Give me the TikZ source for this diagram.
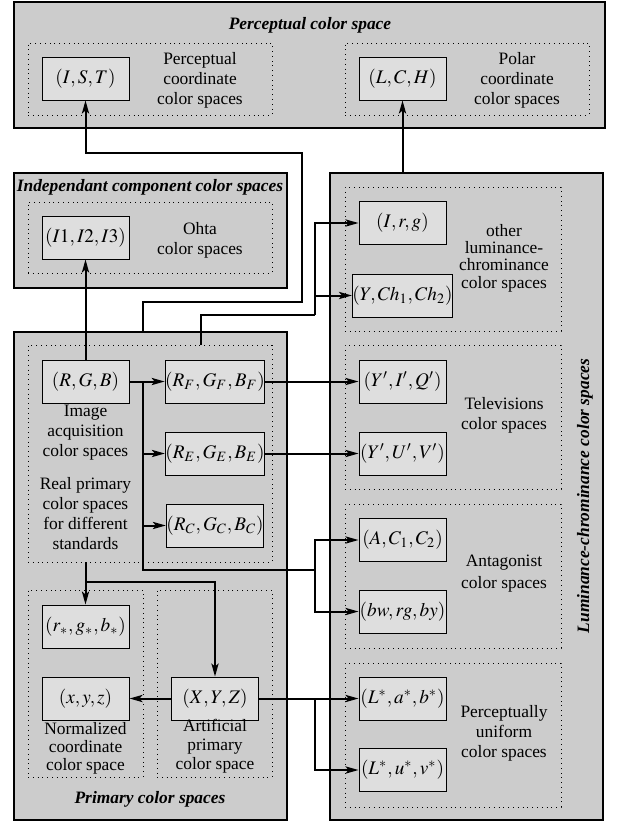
\documentclass[tikz,border=0pt]{standalone}
\usepackage{mathptmx}
\usepackage[no-math]{fontspec}
\setmainfont{Liberation Serif}
\usetikzlibrary{arrows.meta,positioning,fit}
\definecolor{familygray}{RGB}{204,204,204}
\definecolor{spacegray}{RGB}{222,222,222}

\tikzset{
  family/.style={draw, line width=0.8pt, fill=familygray, inner sep=0pt},
  group/.style={draw, dotted, line width=0.4pt, inner sep=0pt},
  space/.style={draw, fill=spacegray, line width=0.5pt, minimum width=43.5pt,
    minimum height=21.5pt, inner sep=0pt, font=\fontsize{9.6}{11}\selectfont},
  note/.style={align=center, inner sep=0pt, font=\fontsize{8.7}{10}\selectfont},
  title/.style={inner sep=0pt, font=\fontsize{8.7}{10.5}\selectfont\bfseries\itshape},
  link/.style={line width=1pt, -{Stealth[length=6.5pt,width=3.6pt,inset=1.5pt]}},
  wire/.style={line width=1pt},
}

\begin{document}
\begin{tikzpicture}[x=0.5pt, y=-0.5pt]

% Background
\fill[white] (0,0) rectangle (617,825);
\useasboundingbox (0,0) rectangle (617,825);

% Families of color spaces
\node[family, fit={(14,2) (605,128)}] (pcs) {};
\node[family, fit={(14,173) (287,288)}] (ics) {};
\node[family, fit={(14,332) (287,820)}] (prim) {};
\node[family, fit={(330,173) (603,820)}] (lcs) {};

\node[title] at (310,25) {Perceptual color space};
\node[title] at (150,187) {Independant component color spaces};
\node[title] at (150,799) {Primary color spaces};
\node[title, rotate=90] at (585,496) {Luminance-chrominance color spaces};

% Dotted groups
\node[group, fit={(28,43) (272,115)}] (gper) {};
\node[group, fit={(345,43) (589,115)}] (gpol) {};
\node[group, fit={(28,202) (272,273)}] (gohta) {};
\node[group, fit={(28,345) (272,562)}] (gacq) {};
\node[group, fit={(28,590) (143,777)}] (gnorm) {};
\node[group, fit={(157,590) (272,777)}] (gart) {};
\node[group, fit={(345,187) (561,331)}] (goth) {};
\node[group, fit={(345,345) (561,489)}] (gtv) {};
\node[group, fit={(345,504) (561,648)}] (gant) {};
\node[group, fit={(345,663) (561,807)}] (guni) {};

% Color spaces
\node[space] (ist) at (85.5,78.5) {$(I,S,T)$};
\node[space] (lch) at (402.5,78.5) {$(L,C,H)$};
\node[space] (ohta) at (85.5,237.5) {$(I1,I2,I3)$};
\node[space] (irg) at (402.5,223) {$(I,r,g)$};
\node[space] (ych) at (402.5,295.5) {$(Y,Ch_1,Ch_2)$};
\node[space] (rgb) at (85.5,381.5) {$(R,G,B)$};
\node[space] (rf) at (215,381.5) {$(R_F,G_F,B_F)$};
\node[space] (re) at (215,453.5) {$(R_E,G_E,B_E)$};
\node[space] (rc) at (215,525.5) {$(R_C,G_C,B_C)$};
\node[space] (yiq) at (402.5,381.5) {$(Y',I',Q')$};
\node[space] (yuv) at (402.5,453.5) {$(Y',U',V')$};
\node[space] (acc) at (402.5,540) {$(A,C_1,C_2)$};
\node[space] (bry) at (402.5,611.5) {$(bw,rg,by)$};
\node[space] (rgbn) at (85.5,626.5) {$(r_*,g_*,b_*)$};
\node[space] (xyzn) at (85.5,698.5) {$(x,y,z)$};
\node[space] (xyz) at (215,698.5) {$(X,Y,Z)$};
\node[space] (lab) at (402.5,698.5) {$(L^*,a^*,b^*)$};
\node[space] (luv) at (402.5,770) {$(L^*,u^*,v^*)$};

% Labels
\node[note] at (200,80) {Perceptual\\coordinate\\color spaces};
\node[note] at (517,80) {Polar\\coordinate\\color spaces};
\node[note] at (200,240) {Ohta\\color spaces};
\node[note, font=\fontsize{8.7}{8.7}\selectfont] at (504,258) {other\\luminance-\\chrominance\\color spaces};
\node[note] at (504,415) {Televisions\\color spaces};
\node[note, font=\fontsize{8.7}{11}\selectfont] at (504,574) {Antagonist\\color spaces};
\node[note] at (504,733) {Perceptually\\uniform\\color spaces};
\node[note] at (85.5,433) {Image\\acquisition\\color spaces};
\node[note] at (85.5,514) {Real primary\\color spaces\\for different\\standards};
\node[note, font=\fontsize{8.7}{9}\selectfont] at (85.5,748) {Normalized\\coordinate\\color space};
\node[note, font=\fontsize{8.7}{9.5}\selectfont] at (215,746) {Artificial\\primary\\color space};

% Bends
\coordinate (upA) at (143,302);
\coordinate (upB) at (302,153);
\coordinate (upC) at (201,315);
\coordinate (upD) at (315,315);
\coordinate (stdA) at (143,570);
\coordinate (stdB) at (315,570);
\coordinate (dnA) at (85.5,582);
\coordinate (uniB) at (315,698.5);

% Connectors
\draw[link] (prim.north -| upA) -- (upA) -| (upB) -| (ist.south);
\draw[link] (lch.south |- lcs.north) -- (lch.south);
\draw[link] (rgb.north) -- (ohta.south);
\draw[wire] (gacq.north -| upC) -- (upC) -- (upD);
\draw[link] (upD) |- (irg.west);
\draw[link] (ych.west -| upD) -- (ych.west);
\draw[link] (rgb.east) -- (rf.west);
\draw[wire] (rgb.east -| stdA) -- (stdA) -- (stdB);
\draw[link] (re.west -| stdA) -- (re.west);
\draw[link] (rc.west -| stdA) -- (rc.west);
\draw[link] (stdB) |- (acc.west);
\draw[link] (stdB) |- (bry.west);
\draw[link] (rf.east) -- (yiq.west);
\draw[link] (re.east) -- (yuv.west);
\draw[link] (gacq.south -| rgbn) -- (rgbn.north);
\draw[link] (dnA) -| (xyz.north);
\draw[link] (xyz.west) -- (xyzn.east);
\draw[link] (xyz.east) -- (lab.west);
\draw[link] (uniB) |- (luv.west);

\end{tikzpicture}
\end{document}
